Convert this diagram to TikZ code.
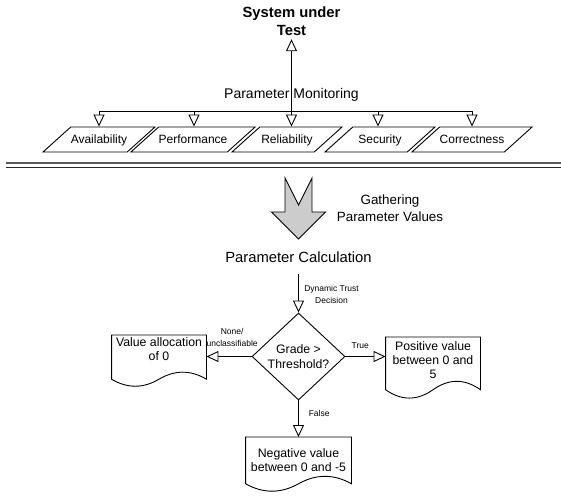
\documentclass[tikz,border=0pt]{standalone}
\usepackage{fontspec}
\setmainfont{Liberation Sans}
\usetikzlibrary{arrows.meta,shapes.geometric,positioning,calc}

% document outline with a wavy bottom, hung from the top edge of a text node
\newcommand{\docframe}[2]{%
	\draw let \p1=(#1.north west), \p2=(#1.north east), \n1={(\x2-\x1)/6} in
		(\p1) -- (\p2) -- (\x2,{\y1-0.85*#2*1pt})
		.. controls +({-\n1*1pt},{0.18*#2*1pt}) and +({\n1*1pt},{0.18*#2*1pt}) .. ({\x1+3*\n1*1pt},{\y1-0.85*#2*1pt})
		.. controls +({-\n1*1pt},{-0.18*#2*1pt}) and +({\n1*1pt},{-0.18*#2*1pt}) .. (\x1,{\y1-0.85*#2*1pt}) -- cycle;}

\begin{document}
\begin{tikzpicture}[x=1pt,y=-1pt,line width=0.9pt,
		hollow/.style={-{Triangle[open,length=12pt,width=11pt]}},
		param/.style={draw,trapezium,trapezium left angle=42,trapezium right angle=138,trapezium stretches body,minimum width=110pt,text height=16.5pt,text depth=8.5pt,inner sep=0pt,font=\fontsize{12}{14}\selectfont},
		doc/.style={anchor=north,align=center,inner xsep=1pt,minimum width=94pt,font=\fontsize{12.3}{14}\selectfont},
		note/.style={align=center,font=\fontsize{8.5}{12}\selectfont}]
	\useasboundingbox (0,0) rectangle (561,495);

	\node[font=\fontsize{14.8}{18}\selectfont\bfseries,align=center] (sut) at (291.5,21) {System under\\Test};
	\node[font=\fontsize{14}{16}\selectfont] (monitor) at (291.5,95) {Parameter Monitoring};

	\node[param] (avail) at (99,139.5) {Availability};
	\node[param] (perf) at (193,139.5) {Performance};
	\node[param] (relia) at (287,139.5) {Reliability};
	\node[param] (secur) at (380,139.5) {Security};
	\node[param] (correct) at (472,139.5) {Correctness};

	\coordinate (b1) at (99,111);
	\coordinate (b2) at (194,111);
	\coordinate (b3) at (291.5,111);
	\coordinate (b4) at (378,111);
	\coordinate (b5) at (472,111);
	\draw (b1) -- (b5);
	\draw[hollow] (b3) -- (b3 |- sut.south);
	\draw[hollow] (b1) -- (b1 |- avail.north);
	\draw[hollow] (b2) -- (b2 |- perf.north);
	\draw[hollow] (b3) -- (b3 |- relia.north);
	\draw[hollow] (b4) -- (b4 |- secur.north);
	\draw[hollow] (b5) -- (b5 |- correct.north);

	\draw[line width=2pt,black!65] (6,162.5) -- (561,162.5);
	\draw[line width=1pt,black!85] (6,167.5) -- (561,167.5);

	\draw[fill=gray!40] (285,178) -- (298.5,205) -- (312,178) -- (312,212) -- (325.5,212) -- (298.5,239) -- (271.5,212) -- (285,212) -- cycle;
	\node[font=\fontsize{13.4}{17}\selectfont,align=center] (gather) at (390,208.5) {Gathering\\Parameter Values};

	\node[font=\fontsize{14.8}{17}\selectfont] (calc) at (298.5,257) {Parameter Calculation};
	\node[draw,diamond,aspect=1.07,minimum width=93pt,minimum height=87pt,inner sep=0pt,align=center,font=\fontsize{12.3}{15}\selectfont] (grade) at (298.5,356.5) {Grade >\\Threshold?};

	\node[doc,inner ysep=2pt] (zero) at (159,335) {Value allocation\\of 0};
	\node[doc,inner ysep=4pt] (plus) at (433,337) {Positive value\\between 0 and\\5};
	\node[doc,minimum width=105pt,inner ysep=11pt] (minus) at (298.5,437) {Negative value\\between 0 and -5};
	\docframe{zero}{52}
	\docframe{plus}{62}
	\docframe{minus}{55}

	\draw[hollow,shorten <=8pt] (calc) -- node[note,right=2pt,pos=0.6] {Dynamic Trust\\Decision} (grade);
	\draw[hollow] (grade) -- node[note,above=6.5pt,pos=0.43] {None/\\unclassifiable} (zero.east |- grade.west);
	\draw[hollow] (grade) -- node[note,above=4.5pt,pos=0.37] {True} (plus.west |- grade.east);
	\draw[hollow] (grade) -- node[note,right=6.5pt,pos=0.35] {False} (minus);
\end{tikzpicture}
\end{document}
